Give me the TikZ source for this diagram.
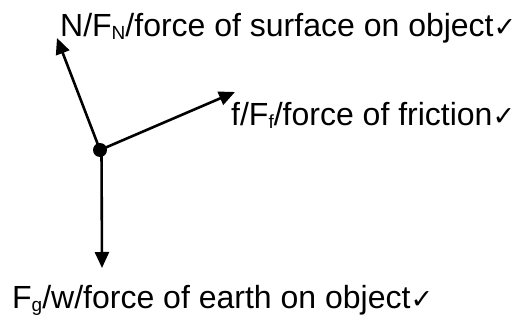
\documentclass[tikz,border=0pt]{standalone}
\usepackage{fontspec}
\setmainfont{Liberation Sans}
\newfontfamily\symfont{DejaVu Sans}
\usetikzlibrary{arrows.meta}
\newcommand{\sbs}[1]{\raisebox{-3pt}{\fontsize{19}{19}\selectfont #1}}
\newcommand{\tick}{\makebox[18pt][l]{\symfont\fontsize{27}{27}\selectfont ✓}}
\begin{document}
\begin{tikzpicture}[x=1pt,y=-1pt,
  force/.style={line width=2.6pt,-{Triangle[length=16pt,width=14pt]}},
  lbl/.style={anchor=base west,inner sep=0pt,font=\fontsize{32}{36}\selectfont}]
\useasboundingbox (0,0) rectangle (521,320);
\coordinate (O) at (100,150);
\fill (O) circle (7);
\coordinate (N) at (57,38);
\coordinate (F) at (235,92);
\coordinate (O2) at (101.5,150);
\coordinate (G) at (102,268);
\draw[force] (O) -- (N);
\draw[force] (O) -- (F);
\draw[force] (O2) -- (G);
\node[lbl] (nl) at (60,37) {N/F\sbs{N}/force of surface on object\tick};
\node[lbl] (fl) at (231,126) {f/F\sbs{f}/force of friction\tick};
\node[lbl] (gl) at (12,308) {F\sbs{g}/w/force of earth on object\tick};
\end{tikzpicture}
\end{document}
